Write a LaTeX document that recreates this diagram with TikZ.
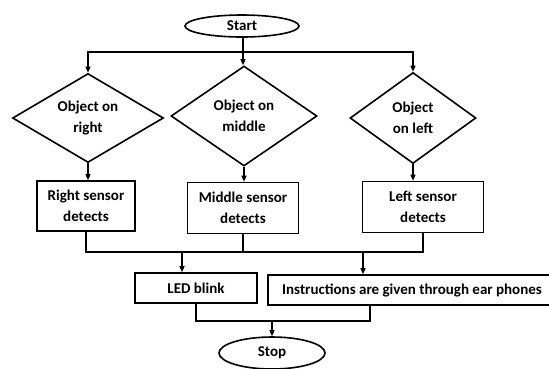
\documentclass[tikz,border=0pt]{standalone}
\usepackage{fontspec}
\setmainfont{Carlito}
\usetikzlibrary{shapes.geometric}
\usetikzlibrary{arrows.meta}

\begin{document}
\begin{tikzpicture}[x=1pt,y=-1pt,
	every node/.style={font=\bfseries\fontsize{15}{21}\selectfont,align=center,inner sep=0pt},
	term/.style={draw,ellipse,line width=1.6pt},
	test/.style={draw,diamond,aspect=1.5,line width=1.6pt},
	work/.style={draw,rectangle,line width=1.6pt},
	link/.style={line width=1.3pt},
	arrow/.style={link,-{Triangle[length=6pt,width=5pt]}}]
	\useasboundingbox (0,0) rectangle (549,368);
	\node [term,minimum width=114pt,minimum height=22pt] (start) at (242,26) {Start};
	\node [test,minimum width=151pt,minimum height=89pt] (d1) at (88,118) {Object on\\right};
	\node [test,minimum width=146pt,minimum height=100pt] (d2) at (244,116) {Object on\\middle};
	\node [test,minimum width=126pt,minimum height=91pt] (d3) at (413,118) {Object\\on left};
	\node [work,minimum width=98pt,minimum height=50pt] (b1) at (86,206) {Right sensor\\detects};
	\node [work,minimum width=111pt,minimum height=51pt] (b2) at (243,208) {Middle sensor\\detects};
	\node [work,minimum width=121pt,minimum height=51pt] (b3) at (423,207) {Left sensor\\detects};
	\node [work,minimum width=122pt,minimum height=30pt] (led) at (196,288) {LED blink};
	\node [work,minimum width=288pt,minimum height=30pt] (instr) at (412,290) {Instructions are given through ear phones};
	\node [term,minimum width=106pt,minimum height=32pt] (stop) at (272,353) {Stop};
	\coordinate (split) at (243,52);
	\coordinate (merge) at (243,252);
	\coordinate (join) at (272,321);
	% start fans out to the three tests
	\draw [link] (split |- start.south) -- (split);
	\draw [arrow] (split) -| (d1.north);
	\draw [arrow] (split) -| (d3.north);
	\draw [arrow] (split) -- (split |- d2.north);
	\foreach \i in {1,2,3} {
		\draw [arrow] (d\i.south) -- (d\i.south |- b\i.north);
	}
	% sensors back together
	\draw [link] (b1.south) |- (merge) -| (b3.south);
	\draw [link] (b2.south) -- (b2.south |- merge);
	\draw [arrow] ([xshift=-14pt]led.north |- merge) -- ([xshift=-14pt]led.north);
	\draw [arrow] ([xshift=-49pt]instr.north |- merge) -- ([xshift=-49pt]instr.north);
	\draw [link] (led.south) |- (join) -| ([xshift=-42pt]instr.south);
	\draw [arrow] (join) -- (stop.north);
\end{tikzpicture}
\end{document}
